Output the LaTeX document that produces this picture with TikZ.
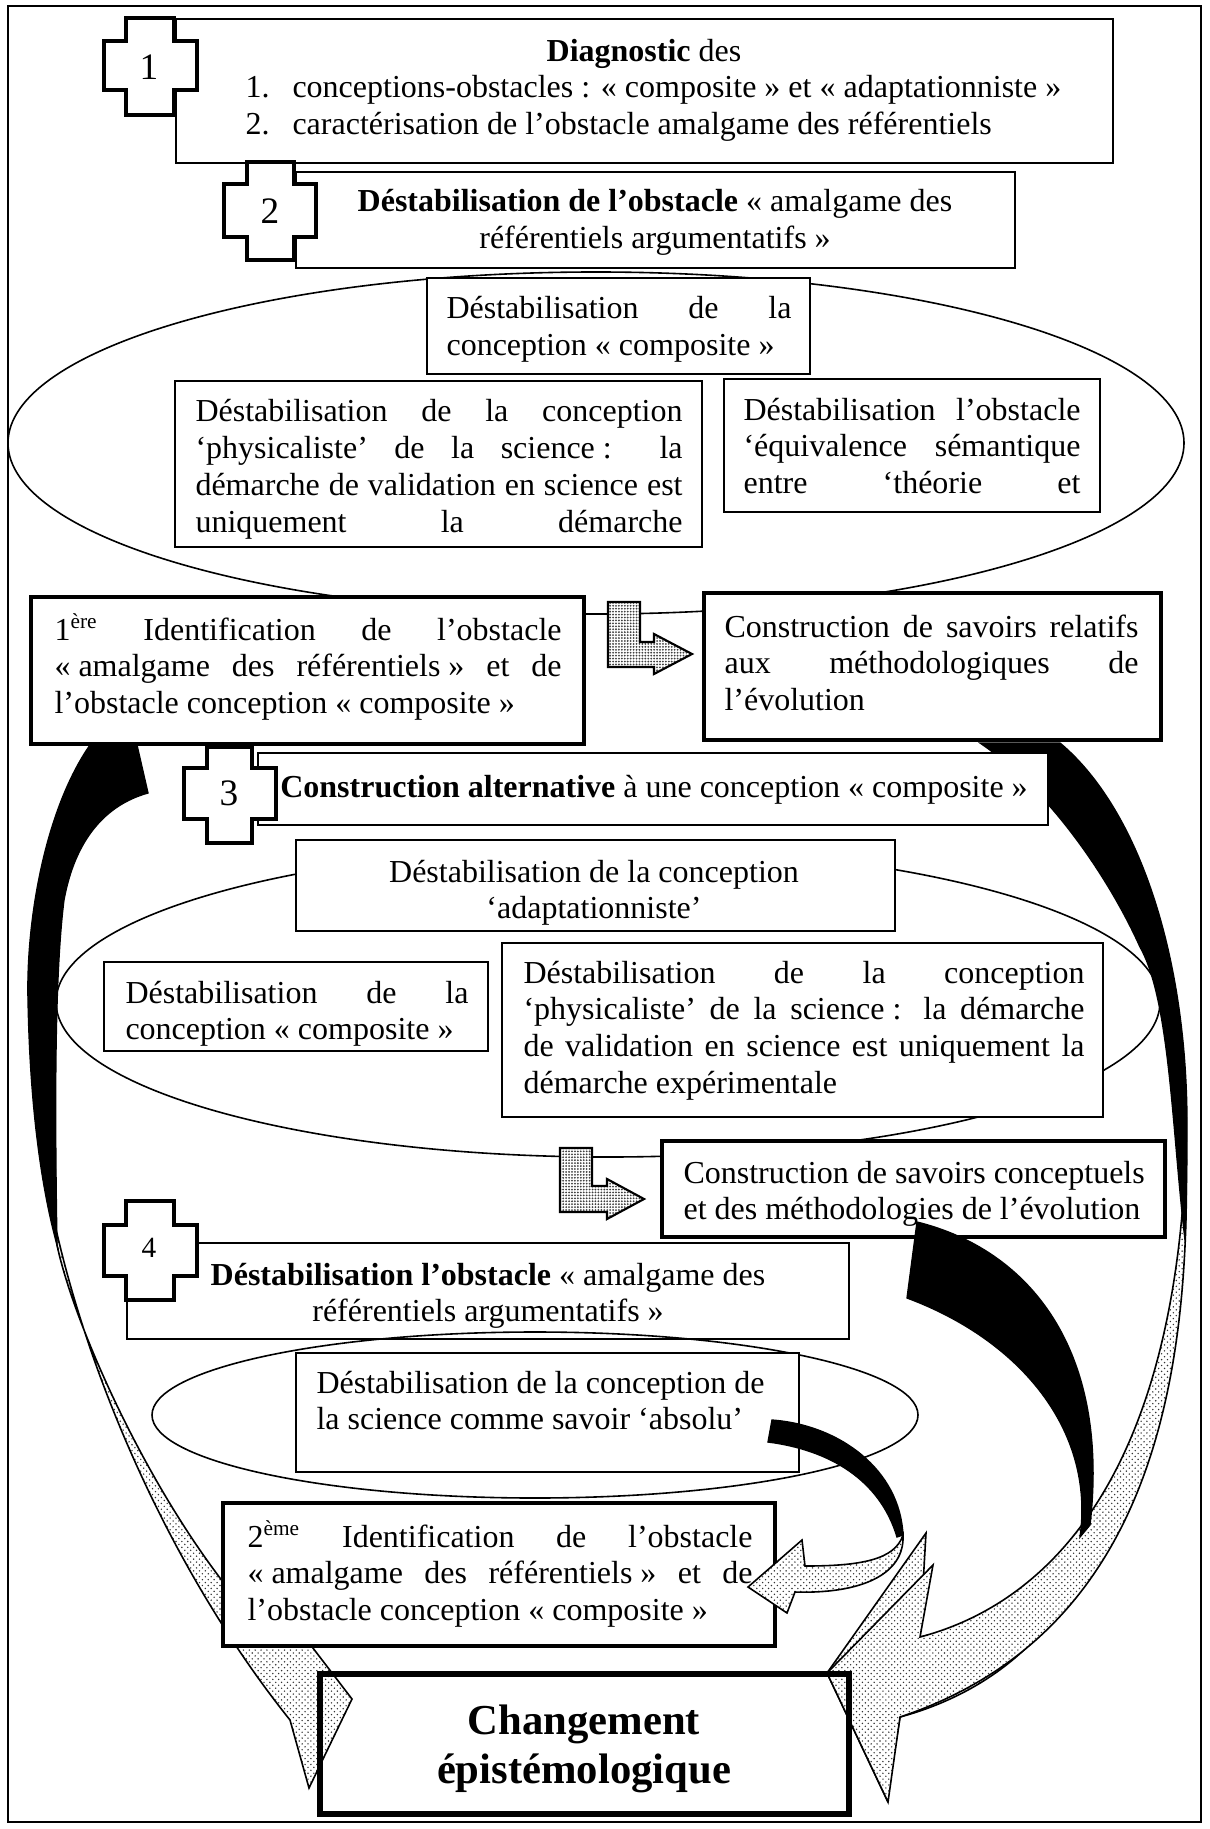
\documentclass[tikz,border=0pt]{standalone}
\usepackage{fontspec}
\setmainfont{Liberation Serif}
\usetikzlibrary{fit,shapes.geometric,patterns}
\newdimen\pxu \pxu=0.375pt
\newcommand\lgq{«\kern.25em}
\newcommand\rgq{\kern.25em»}
\newcommand\sline[1]{\makebox[\linewidth][s]{#1}}
\pgfdeclarepatternformonly{bigdots}{\pgfqpoint{-0.4pt}{-0.4pt}}{\pgfqpoint{2.2pt}{2.2pt}}{\pgfqpoint{2.2pt}{2.2pt}}{%
  \pgfpathcircle{\pgfqpoint{0pt}{0pt}}{0.3pt}\pgfpathcircle{\pgfqpoint{1.1pt}{1.1pt}}{0.3pt}\pgfusepath{fill}}
\pgfdeclarepatternformonly{smalldots}{\pgfqpoint{-0.45pt}{-0.45pt}}{\pgfqpoint{1.1pt}{1.1pt}}{\pgfqpoint{1.1pt}{1.1pt}}{%
  \pgfpathcircle{\pgfqpoint{0pt}{0pt}}{0.38pt}\pgfusepath{fill}}
\tikzset{
  thinbox/.style={draw, line width=0.75pt, fill=white, inner sep=0pt},
  thickbox/.style={draw, line width=1.6pt, fill=white, inner sep=0pt},
  ell/.style={draw, ellipse, line width=0.6pt, inner sep=0pt},
  crossshape/.style={draw, line width=1.4pt, fill=white, line join=miter},
  num/.style={inner sep=0pt, font=\fontsize{14}{16}\selectfont},
  txt/.style={inner sep=0pt, anchor=base west},
  ctxt/.style={inner sep=0pt, anchor=base},
  blackarrow/.style={fill=black, draw=black, line width=0.5pt},
  dotarrow/.style={draw=black, line width=0.6pt, preaction={fill=white}, pattern=bigdots, pattern color=black!80},
  grayarrow/.style={draw=black, line width=0.8pt, preaction={fill=white}, pattern=smalldots, pattern color=black!75},
}
\begin{document}
\begin{tikzpicture}[x=0.375pt,y=-0.375pt, font=\fontsize{12}{13.8}\selectfont]
\useasboundingbox (0,0) rectangle (1210,1829);
\fill[white] (0,0) rectangle (1210,1829);
\node[draw, line width=0.6pt, inner sep=0pt, fit={(8,6) (1201,1822)}] (frame) {};

% ---- big curved arrows (behind the boxes)
\path[dotarrow] (38,1120) .. controls (55,1300) and (150,1545) .. (290,1720) -- (309,1788) -- (352,1699) -- (280,1605) -- (262,1628) .. controls (160,1520) and (75,1330) .. (57,1245) .. controls (52,1200) and (45,1160) .. (38,1120) -- cycle;
\path[blackarrow] (90,745) .. controls (45,810) and (26,920) .. (28,1000) .. controls (30,1110) and (42,1190) .. (57,1245) .. controls (55,1120) and (54,980) .. (64,900) .. controls (75,840) and (105,805) .. (148,793) -- (137,745) -- cycle;

\path[dotarrow] (1080,1537) .. controls (1040,1590) and (980,1625) .. (920,1637) -- (926,1533) -- (827,1673) -- (887,1800) -- (900,1717) .. controls (1000,1690) and (1075,1620) .. (1092,1528) -- cycle;

\path[dotarrow] (1186,1150) .. controls (1192,1420) and (1130,1640) .. (900,1717) -- (888,1802) -- (827,1673) -- (933,1565) -- (920,1637) .. controls (1060,1600) and (1175,1460) .. (1186,1150) -- cycle;
\path[blackarrow] (980,743) -- (1060,743) .. controls (1140,810) and (1188,960) .. (1187,1130) .. controls (1187,1180) and (1186,1210) .. (1185,1240) .. controls (1172,1130) and (1170,1000) .. (1140,947) .. controls (1110,880) and (1050,790) .. (980,743) -- cycle;

% ---- step 1
\node[thinbox, line width=0.9pt, fit={(176,19) (1113,163)}] (diag) {};
\draw[crossshape] (126,18) -- (174,18) -- (174,41) -- (197,41) -- (197,90) -- (174,90) -- (174,115) -- (126,115) -- (126,90) -- (104,90) -- (104,41) -- (126,41) -- cycle;
\node[num] (n1) at (149,67) {1};
\node[ctxt] (diagt1) at (644,62) {\textbf{Diagnostic} des};
\node[txt] (diagt2) at (245,98) {\parbox[t]{830\pxu}{\makebox[47\pxu][l]{1.}conceptions-obstacles : \lgq{}composite\rgq{} et \lgq{}adaptationniste\rgq\\
\makebox[47\pxu][l]{2.}caractérisation de l’obstacle amalgame des référentiels}};

% ---- step 2
\node[thinbox, fit={(296,172) (1015,268)}] (b2) {};
\draw[crossshape] (247,162) -- (294,162) -- (294,184) -- (316,184) -- (316,237) -- (294,237) -- (294,260) -- (247,260) -- (247,237) -- (224,237) -- (224,184) -- (247,184) -- cycle;
\node[num] (n2) at (270,211) {2};
\node[ctxt] (b2t) at (655,212) {\parbox[t]{700\pxu}{\centering\textbf{Déstabilisation de l’obstacle} \lgq{}amalgame des\\ référentiels argumentatifs\rgq}};

\node[ell, minimum width=441pt, minimum height=128.25pt] (e1) at (596,443) {};
\node[thinbox, fit={(427,278) (810,374)}] (c1) {};
\node[txt] (c1t) at (446,319) {\parbox[t]{345\pxu}{\sline{Déstabilisation de la}\\ conception \lgq{}composite\rgq}};
\node[thinbox, fit={(175,381) (702,547)}] (p1) {};
\node[txt] (p1t) at (195,422) {\parbox[t]{487\pxu}{\sline{Déstabilisation de la conception}\\ \sline{‘physicaliste’ de la science\kern.25em: la}\\ \sline{démarche de validation en science est}\\ \sline{uniquement la démarche}}};
\node[thinbox, fit={(724,379) (1100,512)}] (q1) {};
\node[txt] (q1t) at (743,420) {\parbox[t]{337\pxu}{\sline{Déstabilisation l’obstacle}\\ \sline{‘équivalence sémantique}\\ \sline{entre ‘théorie et}}};

\node[thickbox, fit={(31,597) (584,744)}] (id1) {};
\node[txt] (id1t) at (54,640) {\parbox[t]{507\pxu}{\sline{1\textsuperscript{ère} Identification de l’obstacle}\\ \sline{\lgq{}amalgame des référentiels\rgq{} et de}\\ l’obstacle conception \lgq{}composite\rgq}};
\node[thickbox, fit={(704,593) (1161,740)}] (rel) {};
\node[txt] (relt) at (724,637) {\parbox[t]{414\pxu}{\sline{Construction de savoirs relatifs}\\ \sline{aux méthodologiques de}\\ l’évolution}};
\path[grayarrow] (608,602) -- (640,602) -- (640,642) -- (654,642) -- (654,634) -- (692,654) -- (654,674) -- (654,667) -- (608,667) -- cycle;

% ---- step 3
\node[thinbox, fit={(258,753) (1048,825)}] (b3) {};
\draw[crossshape] (207,747) -- (252,747) -- (252,768) -- (276,768) -- (276,819) -- (252,819) -- (252,843) -- (207,843) -- (207,819) -- (184,819) -- (184,768) -- (207,768) -- cycle;
\node[num] (n3) at (229,793) {3};
\node[ctxt] (b3t) at (654,797) {\textbf{Construction alternative} à une conception \lgq{}composite\rgq};

\node[ell, minimum width=414pt, minimum height=116.25pt] (e2) at (608,1002) {};
\node[thinbox, fit={(296,840) (895,931)}] (ad) {};
\node[ctxt] (adt) at (594,882) {\parbox[t]{560\pxu}{\centering Déstabilisation de la conception\\ ‘adaptationniste’}};
\node[thinbox, fit={(104,962) (488,1051)}] (c2) {};
\node[txt] (c2t) at (125,1003) {\parbox[t]{343\pxu}{\sline{Déstabilisation de la}\\ conception \lgq{}composite\rgq}};
\node[thinbox, fit={(502,943) (1103,1117)}] (p2) {};
\node[txt] (p2t) at (523,983) {\parbox[t]{561\pxu}{\sline{Déstabilisation de la conception}\\ \sline{‘physicaliste’ de la science\kern.25em: la démarche}\\ \sline{de validation en science est uniquement la}\\ démarche expérimentale}};

\node[thickbox, fit={(662,1141) (1165,1237)}] (con) {};
\node[txt] (cont) at (683,1183) {\parbox[t]{470\pxu}{Construction de savoirs conceptuels\\ et des méthodologies de l’évolution}};
\path[grayarrow] (560,1148) -- (592,1148) -- (592,1186) -- (607,1186) -- (607,1179) -- (644,1199) -- (607,1219) -- (607,1212) -- (560,1212) -- cycle;
% black start of the arrow leaving the conceptual box (drawn over it)
\path[blackarrow] (907,1298) -- (917,1222) .. controls (1030,1250) and (1110,1350) .. (1090,1525) -- (1080,1537) .. controls (1095,1430) and (1020,1340) .. (907,1298) -- cycle;

% ---- step 4
\node[thinbox, fit={(127,1243) (849,1339)}] (b4) {};
\draw[crossshape] (126,1201) -- (174,1201) -- (174,1225) -- (197,1225) -- (197,1276) -- (174,1276) -- (174,1300) -- (126,1300) -- (126,1276) -- (104,1276) -- (104,1225) -- (126,1225) -- cycle;
\node[num, font=\fontsize{11}{12}\selectfont] (n4) at (149,1248) {4};
\node[ctxt] (b4t) at (488,1285) {\parbox[t]{700\pxu}{\centering\textbf{Déstabilisation l’obstacle} \lgq{}amalgame des\\ référentiels argumentatifs\rgq}};

\node[ell, minimum width=287.25pt, minimum height=62.25pt] (e3) at (535,1415) {};
\node[thinbox, fit={(296,1353) (799,1472)}] (abs) {};
\node[txt] (abst) at (316,1393) {\parbox[t]{470\pxu}{Déstabilisation de la conception de\\ la science comme savoir ‘absolu’}};

\node[thickbox, fit={(223,1503) (775,1646)}] (id2) {};
\node[txt] (id2t) at (247,1547) {\parbox[t]{505\pxu}{\sline{2\textsuperscript{ème} Identification de l’obstacle}\\ \sline{\lgq{}amalgame des référentiels\rgq{} et de}\\ l’obstacle conception \lgq{}composite\rgq}};

% small curved arrow to the 2nd identification
\path[dotarrow] (903,1535) .. controls (895,1560) and (860,1566) .. (805,1566) -- (802,1540) -- (748,1587) -- (787,1613) -- (795,1592) .. controls (860,1594) and (905,1575) .. (903,1535) -- cycle;
\path[blackarrow] (772,1420) .. controls (840,1425) and (900,1470) .. (903,1535) -- (897,1537) .. controls (880,1480) and (830,1450) .. (768,1442) -- cycle;

% ---- final box
\node[draw, line width=1.9pt, inner sep=0pt, fit={(320,1674) (849,1814)}] (chg) {};
\node[ctxt] (chgt) at (584,1734) {\parbox[t]{500\pxu}{\centering\fontsize{16}{18.5}\selectfont\bfseries Changement\\ épistémologique}};
\end{tikzpicture}
\end{document}
